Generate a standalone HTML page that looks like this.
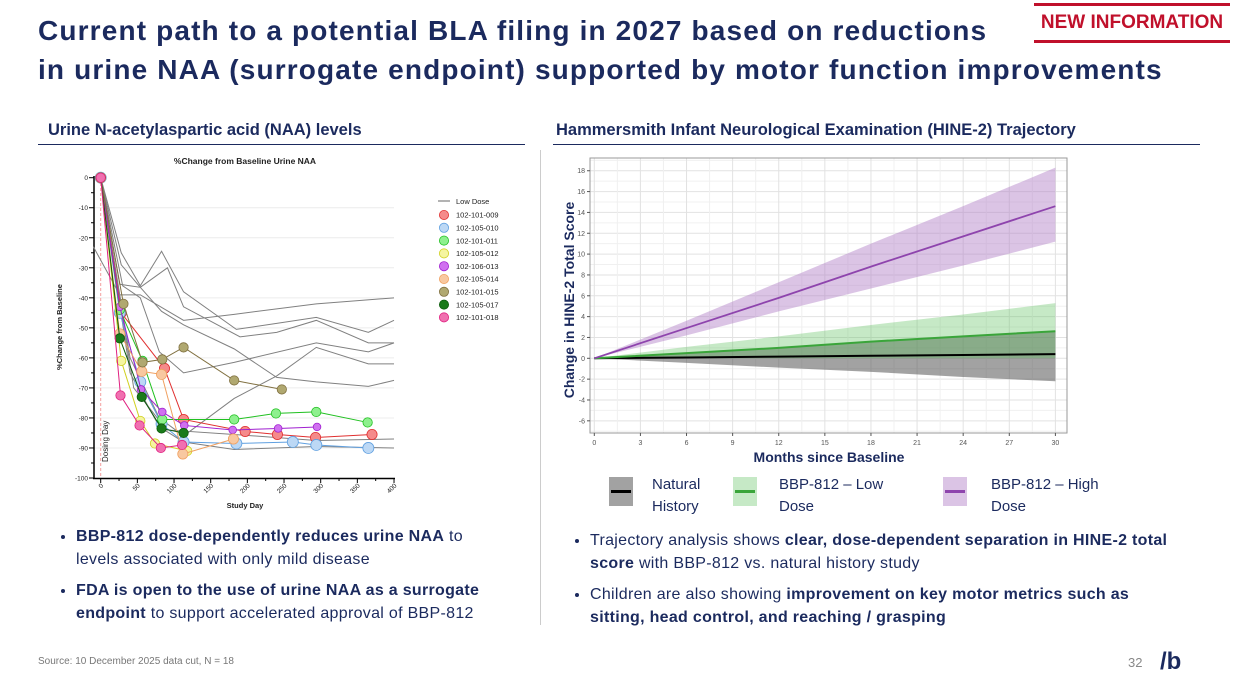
<!DOCTYPE html>
<html><head><meta charset="utf-8"><style>
body{margin:0;width:1234px;height:687px;background:#fff;font-family:"Liberation Sans",sans-serif;position:relative;overflow:hidden;color:#1b2a5e}
.abs{position:absolute}
.title{left:38px;top:11px;font-size:28px;letter-spacing:1.15px;font-weight:bold;line-height:39px;color:#1b2a5e;white-space:nowrap}
.hdr{font-size:16.5px;font-weight:bold;white-space:nowrap}
.bul{font-size:16px;letter-spacing:0.3px;line-height:23px;color:#1b2a5e;white-space:nowrap}
.bul li{margin-bottom:8px}
ul{margin:0;padding-left:24px}
b{font-weight:bold}
</style></head><body>
<div class="abs title">Current path to a potential BLA filing in 2027 based on reductions<br>in urine NAA (surrogate endpoint) supported by motor function improvements</div>
<div class="abs" style="left:1034px;top:3px;width:196px;height:34px;border-top:3px solid #c0102b;border-bottom:3px solid #c0102b;color:#c0102b;font-weight:bold;font-size:19px;line-height:34px;text-align:center">NEW INFORMATION</div>
<div class="abs hdr" style="left:48px;top:121px">Urine N-acetylaspartic acid (NAA) levels</div>
<div class="abs hdr" style="left:556px;top:121px">Hammersmith Infant Neurological Examination (HINE-2) Trajectory</div>
<div class="abs" style="left:38px;top:144px;width:487px;height:1px;background:#1b2a5e"></div>
<div class="abs" style="left:553px;top:144px;width:647px;height:1px;background:#1b2a5e"></div>
<div class="abs" style="left:540px;top:150px;width:1px;height:475px;background:#ccc"></div>

<svg class="abs" style="left:0;top:0" width="1234" height="687" id="svg"></svg>

<div class="abs bul" style="left:52px;top:525px;width:480px"><ul>
<li><b>BBP-812 dose-dependently reduces urine NAA</b> to<br>levels associated with only mild disease</li>
<li><b>FDA is open to the use of urine NAA as a surrogate<br>endpoint</b> to support accelerated approval of BBP-812</li></ul></div>
<div class="abs bul" style="left:566px;top:529px;width:640px"><ul>
<li>Trajectory analysis shows <b>clear, dose-dependent separation in HINE-2 total<br>score</b> with BBP-812 vs. natural history study</li>
<li>Children are also showing <b>improvement on key motor metrics such as<br>sitting, head control, and reaching / grasping</b></li></ul></div>
<div class="abs" style="left:38px;top:656px;font-size:10px;color:#777">Source: 10 December 2025 data cut, N = 18</div>
<div class="abs" style="left:1128px;top:655px;font-size:13px;color:#888">32</div>
<div class="abs" style="left:1160px;top:648px;font-size:24px;color:#1b2a5e;font-weight:bold">/b</div>

<script>
const NS="http://www.w3.org/2000/svg";
const svg=document.getElementById('svg');
function mk(t,a,p){const e=document.createElementNS(NS,t);for(const k in a)e.setAttribute(k,a[k]);(p||svg).appendChild(e);return e;}
function tx(s,a,p){const e=mk('text',a,p);e.textContent=s;return e;}

/* ---------- Left chart data ---------- */
const naaYTicks=[0,-10,-20,-30,-40,-50,-60,-70,-80,-90,-100];
const naaXTicks=[0,50,100,150,200,250,300,350,400];
const lowDoseLines=[
 [[-10,-23],[26,-39],[54,-39],[113,-47.5],[182,-45.5],[294,-42],[400,-40]],
 [[0,0],[28,-25],[54,-36],[83,-24.5],[113,-38],[185,-50.5],[240,-48.5],[294,-46.5],[365,-51.5],[400,-47.5]],
 [[0,0],[28,-29],[54,-36.5],[91,-30],[113,-43],[190,-53],[240,-51.5],[294,-47.5],[365,-55],[400,-55]],
 [[0,0],[26,-35.5],[54,-36.5],[83,-44.5],[113,-49],[182,-57],[240,-66.5],[294,-68],[365,-69.5],[400,-67.5]],
 [[0,0],[30,-36],[54,-40],[80,-58],[113,-65],[182,-61.5],[294,-55],[365,-58],[400,-55]],
 [[0,0],[40,-60],[80,-80],[113,-86],[182,-73.5],[240,-66],[294,-56.5],[365,-62],[400,-62]],
 [[0,0],[40,-65],[80,-83],[113,-88],[182,-90.5],[294,-89.5],[400,-90]],
 [[0,0],[45,-70],[90,-84],[182,-85.5],[294,-87.5],[400,-87]]
];
const patIds=['102-101-009','102-105-010','102-101-011','102-105-012','102-106-013','102-105-014','102-101-015','102-105-017','102-101-018'];
const patFill=['#f58a8a','#bcd8f5','#8ef08e','#f5f5a0','#d070f0','#f8c8a0','#b0a870','#1a7a1a','#f070b0'];
const patLine=['#e03030','#60a0e0','#20c020','#d0d020','#a020d0','#f0a060','#807040','#0a5a0a','#e02080'];
const patR=[6,6.5,5.5,5.5,4.5,6,5.5,5.5,5.5];
const patData=[
 [[0,0],[28,-45],[87,-63.5],[113,-80.5],[197,-84.5],[241,-85.5],[293,-86.5],[370,-85.5]],
 [[0,0],[26,-45],[54,-68],[83,-82],[113,-88],[185,-88.5],[262,-88],[294,-89],[365,-90]],
 [[0,0],[26,-44],[57,-61],[84,-80.5],[182,-80.5],[239,-78.5],[294,-78],[364,-81.5]],
 [[0,0],[28,-61],[54,-81],[74,-88.5],[118,-91]],
 [[0,0],[26,-43],[55,-70.5],[84,-78],[114,-82.5],[180,-84],[242,-83.5],[295,-83]],
 [[0,0],[26,-52],[56,-64.5],[83,-65.5],[112,-92],[181,-87]],
 [[0,0],[31,-42],[57,-61.5],[84,-60.5],[113,-56.5],[182,-67.5],[247,-70.5]],
 [[0,0],[26,-53.5],[56,-73],[83,-83.5],[113,-85]],
 [[0,0],[27,-72.5],[53,-82.5],[82,-90],[111,-89]]
];
const lx=d=>100.7+d*0.7333, ly=v=>177.7-v*3.003;
const L=mk('g',{});


tx('%Change from Baseline Urine NAA',{x:245,y:164,'font-size':8.5,'font-weight':'bold','text-anchor':'middle',fill:'#222'},L);
naaYTicks.forEach(v=>{ if(v<0&&v>-100) mk('line',{x1:94,x2:394,y1:ly(v),y2:ly(v),stroke:'#ececec','stroke-width':1},L);
 mk('line',{x1:89,x2:94,y1:ly(v),y2:ly(v),stroke:'#000'},L);
 tx(String(v),{x:88,y:ly(v)+2.5,'font-size':6.5,'text-anchor':'end',fill:'#222'},L);});
for(let v=-5;v>-100;v-=10) mk('line',{x1:91,x2:94,y1:ly(v),y2:ly(v),stroke:'#000'},L);
mk('line',{x1:94,x2:94,y1:176,y2:479,stroke:'#000','stroke-width':1.5},L);
mk('line',{x1:93,x2:395,y1:478.5,y2:478.5,stroke:'#000','stroke-width':1.5},L);
naaXTicks.forEach(d=>{mk('line',{x1:lx(d),x2:lx(d),y1:478,y2:483,stroke:'#000'},L);
 tx(String(d),{x:lx(d)+3,y:486,'font-size':6.5,'text-anchor':'end',fill:'#222',transform:`rotate(-45 ${lx(d)+3} 486)`},L);});
naaXTicks.slice(0,-1).forEach(d=>mk('line',{x1:lx(d+25),x2:lx(d+25),y1:478,y2:481,stroke:'#000'},L));
mk('line',{x1:lx(0),x2:lx(0),y1:178,y2:478,stroke:'#f4a0a0','stroke-dasharray':'3,2'},L);
tx('Dosing Day',{x:108,y:462,'font-size':8,fill:'#222',transform:'rotate(-90 108 462)'},L);
tx('%Change from Baseline',{x:62,y:327,'font-size':7.5,'font-weight':'bold','text-anchor':'middle',fill:'#222',transform:'rotate(-90 62 327)'},L);
tx('Study Day',{x:245,y:508,'font-size':7.5,'font-weight':'bold','text-anchor':'middle',fill:'#222'},L);
lowDoseLines.forEach(s=>{const p=mk('polyline',{points:s.map(q=>lx(q[0])+','+ly(q[1])).join(' '),fill:'none',stroke:'#808080','stroke-width':1},L);
 
 });
patData.forEach((s,i)=>{const g=mk('g',{},L);
 
 
 mk('polyline',{points:s.map(q=>lx(q[0])+','+ly(q[1])).join(' '),fill:'none',stroke:patLine[i],'stroke-width':1},g);
 s.forEach(q=>mk('circle',{cx:lx(q[0]),cy:ly(q[1]),r:patR[i]*0.85,fill:patFill[i],stroke:patLine[i],'stroke-width':0.8},g));});
const lg=mk('g',{},L);


mk('line',{x1:438,x2:450,y1:201,y2:201,stroke:'#808080','stroke-width':1.2},lg);
tx('Low Dose',{x:456,y:204,'font-size':7.5,fill:'#222'},lg);
patIds.forEach((id,i)=>{const y=215+i*12.8;
 mk('circle',{cx:444,cy:y,r:4.6,fill:patFill[i],stroke:patLine[i],'stroke-width':0.8},lg);
 tx(id,{x:456,y:y+2.7,'font-size':7.5,fill:'#222'},lg);});

/* ---------- Right chart data ---------- */
const months=[0,6,12,18,24,30];
const highMean=[0,2.9,5.8,8.8,11.7,14.6];
const highUp=[0,3.6,7.3,11,14.6,18.3];
const highLo=[0,2.2,4.5,6.7,8.9,11.2];
const lowMean=[0,0.5,1.0,1.6,2.1,2.6];
const lowUp=[0,1.1,2.1,3.2,4.2,5.3];
const lowLo=[0,0,0,0,0,0];
const natMean=[0,0.08,0.16,0.24,0.32,0.4];
const natUp=[0,0.5,1.0,1.6,2.1,2.6];
const natLo=[0,-0.44,-0.9,-1.3,-1.8,-2.2];
const hYTicks=[-6,-4,-2,0,2,4,6,8,10,12,14,16,18];
const hXTicks=[0,3,6,9,12,15,18,21,24,27,30];
const rx=m=>594.3+m*15.37, ry=v=>358.3-v*10.42;
const R=mk('g',{});


mk('rect',{x:590,y:158,width:477,height:275,fill:'#fff',stroke:'#999','stroke-width':1},R);
for(let v=-7;v<=19;v++){if(ry(v)>159&&ry(v)<432) mk('line',{x1:590.5,x2:1066.5,y1:ry(v),y2:ry(v),stroke:v%2==0?'#e2e2e2':'#f0f0f0','stroke-width':1},R);}
for(let m=0;m<=30;m+=1.5){mk('line',{x1:rx(m),x2:rx(m),y1:158.5,y2:432.5,stroke:m%3==0?'#e2e2e2':'#f0f0f0','stroke-width':1},R);}
function band(up,lo,fill,op,name){const pts=months.map((m,i)=>rx(m)+','+ry(up[i])).concat(months.slice().reverse().map((m,j)=>{const i=months.length-1-j;return rx(m)+','+ry(lo[i]);}));
 const p=mk('polygon',{points:pts.join(' '),fill:fill,'fill-opacity':op},R);
 
 }
function line(v,c,w,name){const p=mk('polyline',{points:months.map((m,i)=>rx(m)+','+ry(v[i])).join(' '),fill:'none',stroke:c,'stroke-width':w},R);
 
 }
band(natUp,natLo,'#555',0.55,'natural-history-band');
band(lowUp,lowLo,'#5cbf5c',0.35,'low-dose-band');
band(highUp,highLo,'#b07cc6',0.45,'high-dose-band');
line(natMean,'#000',2,'natural-history-line');
line(lowMean,'#3aa53a',2,'low-dose-line');
line(highMean,'#8e44ad',1.8,'high-dose-line');
hYTicks.forEach(v=>{mk('line',{x1:587,x2:590,y1:ry(v),y2:ry(v),stroke:'#555'},R);
 tx(String(v),{x:585,y:ry(v)+2.5,'font-size':7,'text-anchor':'end',fill:'#555'},R);});
hXTicks.forEach(m=>{mk('line',{x1:rx(m),x2:rx(m),y1:433,y2:436,stroke:'#555'},R);
 tx(String(m),{x:rx(m),y:445,'font-size':7,'text-anchor':'middle',fill:'#555'},R);});
tx('Months since Baseline',{x:829,y:462,'font-size':14,'font-weight':'bold','text-anchor':'middle',fill:'#1b2a5e'},R);
tx('Change in HINE-2 Total Score',{x:574,y:300,'font-size':14,'font-weight':'bold','text-anchor':'middle',fill:'#1b2a5e',transform:'rotate(-90 574 300)'},R);
const leg=[['#555',0.55,'#000',['Natural','History'],609,652],['#5cbf5c',0.35,'#3aa53a',['BBP-812 – Low','Dose'],733,779],['#b07cc6',0.45,'#8e44ad',['BBP-812 – High','Dose'],943,991]];
leg.forEach(e=>{const g=mk('g',{},R);
 
 
 mk('rect',{x:e[4],y:477,width:24,height:29,fill:e[0],'fill-opacity':e[1]},g);
 mk('line',{x1:e[4]+2,x2:e[4]+22,y1:491.5,y2:491.5,stroke:e[2],'stroke-width':3},g);
 tx(e[3][0],{x:e[5],y:489,'font-size':15,fill:'#1b2a5e'},g);
 tx(e[3][1],{x:e[5],y:511,'font-size':15,fill:'#1b2a5e'},g);});
</script>
</body></html>
